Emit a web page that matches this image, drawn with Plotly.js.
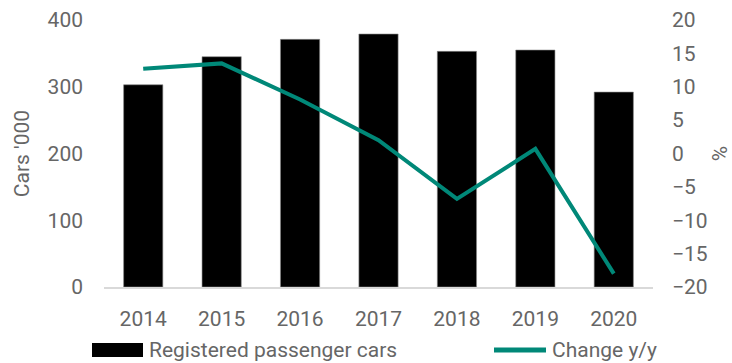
<!DOCTYPE html>
<html>
<head>
<meta charset="utf-8">
<script src="https://cdn.plot.ly/plotly-3.0.1.min.js"></script>
<style>html,body{margin:0;padding:0;background:#fff;}#chart{width:732px;height:363px;}</style>
</head>
<body>
<div id="chart"></div>
<script>
const years = ['2014', '2015', '2016', '2017', '2018', '2019', '2020'];
const registeredCars = [303, 345, 371, 379, 353, 355, 292];
const changeYoY = [12.7, 13.5, 8.1, 2.0, -6.8, 0.7, -18.0];
const seriesNames = ['Registered passenger cars', 'Change y/y'];
const leftTicks = [0, 100, 200, 300, 400];
const rightTicks = [-20, -15, -10, -5, 0, 5, 10, 15, 20];

const W = 732, H = 363;
const M = {l: 104, r: 79, t: 20, b: 76};
const pw = W - M.l - M.r, ph = H - M.t - M.b;
const px = x => (x - M.l) / pw;
const py = y => (H - M.b - y) / ph;

const txt = '#666666';
const teal = '#008878';
const font = 'Roboto, "Noto Sans", sans-serif';
const fs = 21;

const traces = [
  {type: 'bar', x: years, y: registeredCars, name: seriesNames[0], marker: {color: '#000', line: {color: '#8a8a8a', width: 0.6}}, yaxis: 'y', showlegend: false, hoverinfo: 'skip'},
  {type: 'scatter', mode: 'lines', x: years, y: changeYoY, name: seriesNames[1], line: {color: teal, width: 4}, yaxis: 'y2', showlegend: false, hoverinfo: 'skip'}
];

const layout = {
  width: W, height: H,
  margin: M,
  paper_bgcolor: '#fff', plot_bgcolor: 'rgba(0,0,0,0)',
  font: {family: font, size: fs, color: txt},
  bargap: 0.5,
  showlegend: false,
  xaxis: {type: 'category', range: [-0.5, 6.5], showgrid: false, zeroline: false, showline: true, linecolor: '#d9d9d9', linewidth: 1.5, ticks: '', ticklabelstandoff: 12, tickfont: {size: fs, color: txt}},
  yaxis: {range: [0, 400], tickvals: leftTicks, showgrid: false, zeroline: false, showline: false, ticks: '', ticklabelstandoff: 20, tickfont: {size: fs, color: txt},
          title: {text: "Cars '000", font: {size: fs, color: txt}, standoff: 12}},
  yaxis2: {range: [-20, 20], tickvals: rightTicks, overlaying: 'y', side: 'right', showgrid: false, zeroline: false, showline: false, ticks: '', ticklabelstandoff: 18, tickfont: {size: fs, color: txt},
           title: {text: '%', font: {size: fs, color: txt}, standoff: 12}},
  shapes: [
    {type: 'rect', xref: 'paper', yref: 'paper', x0: px(92), x1: px(143), y0: py(357), y1: py(343), fillcolor: '#000', line: {width: 0}},
    {type: 'line', xref: 'paper', yref: 'paper', x0: px(494), x1: px(546), y0: py(350), y1: py(350), line: {color: teal, width: 5}}
  ],
  annotations: [
    {xref: 'paper', yref: 'paper', x: px(147), y: py(350), xanchor: 'left', yanchor: 'middle', text: seriesNames[0], showarrow: false, font: {size: fs, color: txt}},
    {xref: 'paper', yref: 'paper', x: px(550), y: py(350), xanchor: 'left', yanchor: 'middle', text: seriesNames[1], showarrow: false, font: {size: fs, color: txt}}
  ]
};

Plotly.newPlot('chart', traces, layout, {staticPlot: true, displayModeBar: false});
</script>
</body>
</html>
